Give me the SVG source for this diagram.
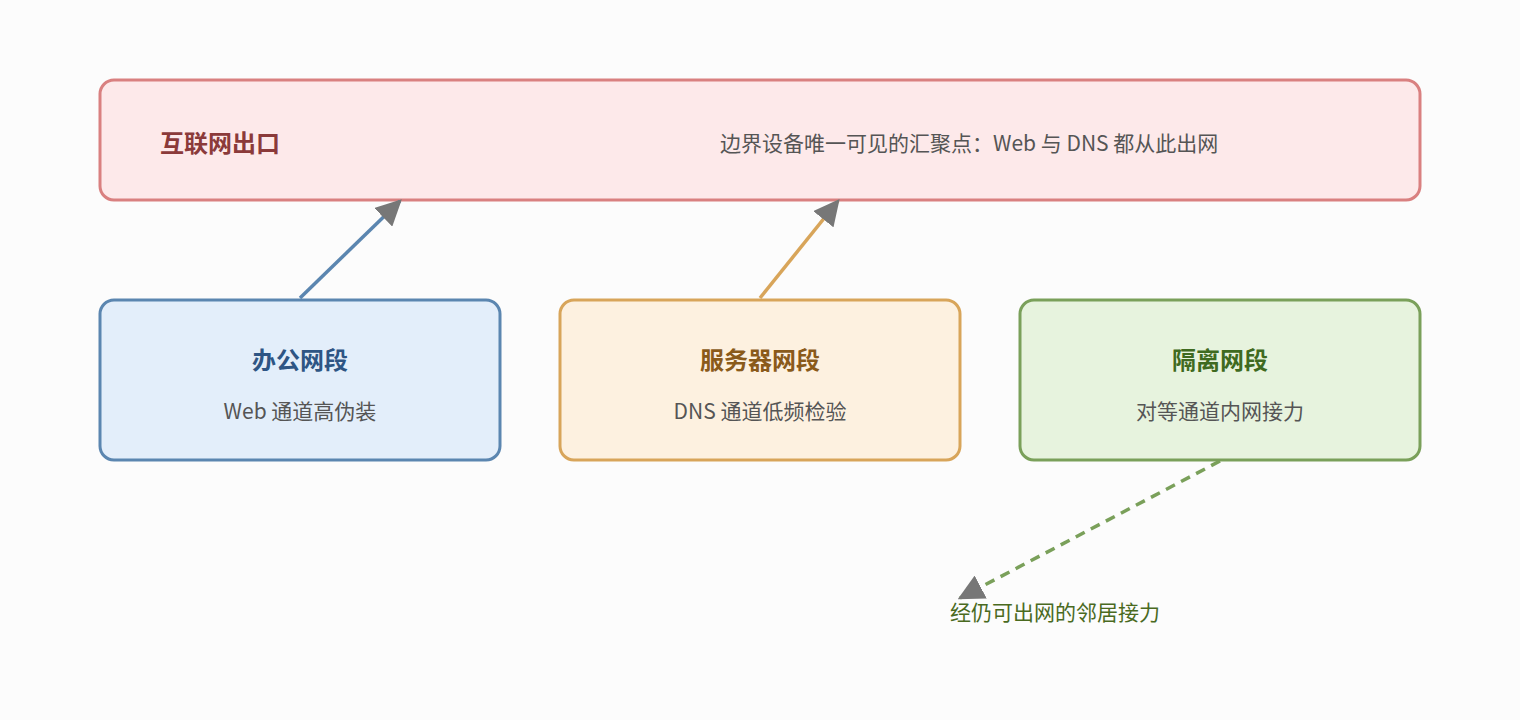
<svg xmlns="http://www.w3.org/2000/svg" width="1520" height="720" viewBox="0 0 1520 720">
<defs>
<style>
text{font-family:"Noto Sans CJK SC","Noto Sans",sans-serif}
.t{font-size:24px;font-weight:bold;text-anchor:middle}
.s{font-size:21px;fill:#555;text-anchor:middle}
</style>
<marker id="ah" viewBox="0 0 10 10" refX="9" refY="5" markerWidth="26" markerHeight="26" markerUnits="userSpaceOnUse" orient="auto"><path d="M0,0L10,5L0,10z" fill="#777"/></marker>
</defs>
<rect width="1520" height="720" fill="#fcfcfc"/>
<g id="exit"><rect x="100" y="80" width="1320" height="120" rx="14" fill="#fde9ea" stroke="#d98080" stroke-width="3"/>
<text x="160" y="152" style="font-size:24px;font-weight:bold;fill:#8b3a3a">互联网出口</text>
<text x="720" y="151" style="font-size:21px;fill:#555">边界设备唯一可见的汇聚点：Web 与 DNS 都从此出网</text></g>
<g id="office"><rect x="100" y="300" width="400" height="160" rx="14" fill="#e3eefa" stroke="#5b86b0" stroke-width="3"/>
<text class="t" x="300" y="369" fill="#2e5584">办公网段</text><text class="s" x="300" y="419">Web 通道高伪装</text></g>
<g id="server"><rect x="560" y="300" width="400" height="160" rx="14" fill="#fdf1e0" stroke="#d8a55a" stroke-width="3"/>
<text class="t" x="760" y="369" fill="#8a5a1a">服务器网段</text><text class="s" x="760" y="419">DNS 通道低频检验</text></g>
<g id="isolated"><rect x="1020" y="300" width="400" height="160" rx="14" fill="#e7f3de" stroke="#7aa05a" stroke-width="3"/>
<text class="t" x="1220" y="369" fill="#3f6a20">隔离网段</text><text class="s" x="1220" y="419">对等通道内网接力</text></g>
<g id="connectors" fill="none" stroke-width="3.5">
<line x1="300" y1="298" x2="400" y2="201" stroke="#5b86b0" marker-end="url(#ah)"/>
<line x1="760" y1="298" x2="838" y2="201" stroke="#d8a55a" marker-end="url(#ah)"/>
<line x1="1220" y1="461" x2="960" y2="598" stroke="#7aa05a" stroke-dasharray="10,7" marker-end="url(#ah)"/>
</g>
<text x="950" y="620" style="font-size:21px;fill:#4a6a1f">经仍可出网的邻居接力</text>
</svg>
